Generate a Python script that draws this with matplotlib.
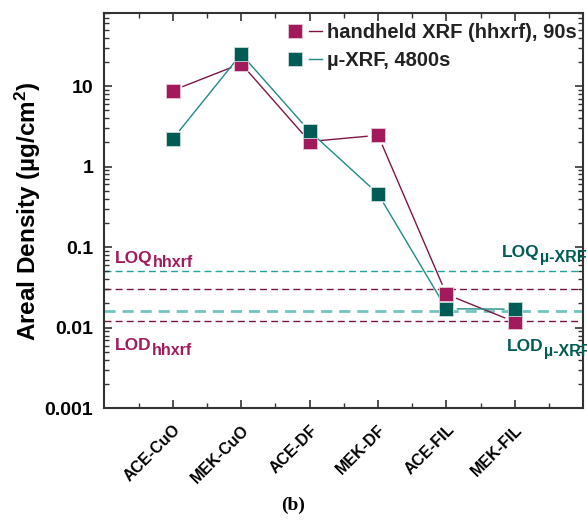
import numpy as np
import matplotlib.pyplot as plt
from matplotlib.lines import Line2D
from matplotlib.legend_handler import HandlerTuple

plt.rcParams['font.family'] = ['Liberation Sans', 'DejaVu Sans']
plt.rcParams['font.weight'] = 'bold'
plt.rcParams['mathtext.fontset'] = 'custom'
plt.rcParams['mathtext.rm'] = 'Liberation Sans:bold'
plt.rcParams['mathtext.bf'] = 'Liberation Sans:bold'
plt.rcParams['mathtext.it'] = 'Liberation Sans:bold'

samples = ['ACE-CuO', 'MEK-CuO', 'ACE-DF', 'MEK-DF', 'ACE-FIL', 'MEK-FIL']
hhxrf = [8.8, 19.0, 2.05, 2.45, 0.026, 0.0118]
muxrf = [2.2, 25.0, 2.75, 0.46, 0.0172, 0.0170]

loq_hh, lod_hh = 0.030, 0.012
loq_mu, lod_mu = 0.051, 0.016

c_hh = '#a31a5c'
c_hh_line = '#7d1646'
c_mu = '#005c55'
c_mu_line = '#1f8c84'

fig = plt.figure(figsize=(5.87, 5.27), dpi=100)
ax = fig.add_axes([104.3/587, 1-408.3/527, (583.3-104.3)/587, (408.3-13.3)/527])
ax.set_yscale('log')
ax.set_xlim(0, 7)
ax.set_ylim(0.001, 80)

x = np.arange(1, len(samples)+1)

# limit lines
ax.axhline(loq_mu, color='#22a39c', lw=1.0, ls=(0, (5, 3)), zorder=1)
ax.axhline(loq_hh, color='#7a1545', lw=1.0, ls=(0, (5, 3)), zorder=1)
ax.axhline(lod_mu, color='#72c4be', lw=2.0, ls=(0, (4, 2.5)), zorder=1)
ax.axhline(lod_hh, color='#7a1545', lw=1.0, ls=(0, (5, 3)), zorder=1)

# connecting lines with small gaps at markers (Origin style)
def gapped(xs, ys, color, gap=11, lw=1.0):
    pts = ax.transData.transform(np.column_stack([xs, ys]))
    inv = ax.transData.inverted()
    for p0, p1 in zip(pts[:-1], pts[1:]):
        d = p1 - p0
        n = np.hypot(*d)
        if n <= 2*gap:
            continue
        a = p0 + d/n*gap
        b = p1 - d/n*gap
        seg = inv.transform(np.array([a, b]))
        ax.plot(seg[:, 0], seg[:, 1], color=color, lw=lw, zorder=2)

gapped(x, hhxrf, c_hh_line)
gapped(x, muxrf, c_mu_line)

ax.plot(x, hhxrf, ls='none', marker='s', ms=10, mfc=c_hh, mec='#e8c8d6', mew=0.6, zorder=3)
ax.plot(x, muxrf, ls='none', marker='s', ms=10, mfc=c_mu, mec='#c8dedb', mew=0.6, zorder=4)

# labels for limits, subscript nearly full size
def sublabel(xp, yp, main, sub, color):
    t = ax.text(xp, yp, main, color=color, fontsize=12.5, fontweight='bold',
                va='baseline', clip_on=False)
    ax.annotate(sub, xy=(1, 0), xycoords=t, xytext=(0.3, -1.2), textcoords='offset points',
                color=color, fontsize=11.5, fontweight='bold', va='baseline',
                annotation_clip=False)

sublabel(0.156, 0.0644, 'LOQ', 'hhxrf', c_hh)
sublabel(0.156, 0.00528, 'LOD', 'hhxrf', c_hh)
sublabel(5.81, 0.0758, 'LOQ', 'µ-XRF', c_mu)
sublabel(5.885, 0.00514, 'LOD', 'µ-XRF', c_mu)

# ticks
ax.set_xticks(x)
ax.set_xticks(np.arange(0.5, 7.0, 1.0), minor=True)
ax.set_xticklabels(samples, rotation=45, ha='right', rotation_mode='anchor', fontsize=11.5, fontweight='bold')
ax.set_yticks([0.001, 0.01, 0.1, 1, 10])
ax.set_yticklabels(['0.001', '0.01', '0.1', '1', '10'], fontsize=14, fontweight='bold')
ax.tick_params(which='both', direction='in', top=True, right=True, color='#333333')
ax.tick_params(which='major', length=6, width=1.2)
ax.tick_params(which='minor', length=3.5, width=1.0)
ax.tick_params(axis='x', which='major', pad=10)
ax.tick_params(axis='y', which='major', pad=8)
for s in ax.spines.values():
    s.set_linewidth(1.5)
    s.set_color('#333333')

ax.set_ylabel(r'Areal Density (µg/cm$^{\mathbf{2}}$)', fontsize=17.5, fontweight='bold', labelpad=1)

# legend: marker then short line
h1 = (Line2D([], [], ls='none', marker='s', ms=10, mfc=c_hh, mec='#e8c8d6', mew=0.6),
      Line2D([], [], color=c_hh_line, lw=1.0))
h2 = (Line2D([], [], ls='none', marker='s', ms=10, mfc=c_mu, mec='#c8dedb', mew=0.6),
      Line2D([], [], color=c_mu_line, lw=1.0))
leg = ax.legend([h1, h2], ['handheld XRF (hhxrf), 90s', 'µ-XRF, 4800s'],
                handler_map={tuple: HandlerTuple(ndivide=None, pad=0.35)},
                loc='upper right', bbox_to_anchor=(1.008, 1.0), frameon=False,
                fontsize=14.5, handlelength=1.7, handletextpad=0.25, labelspacing=0.45,
                borderaxespad=0.2, borderpad=0.3)
for t in leg.get_texts():
    t.set_fontweight('bold')
    t.set_color('#222222')

fig.text(293/587, 1-505/527, '(b)', ha='center', va='center', fontsize=14,
         family='Liberation Serif', fontweight='bold')

fig.savefig('out.png', dpi=100)
